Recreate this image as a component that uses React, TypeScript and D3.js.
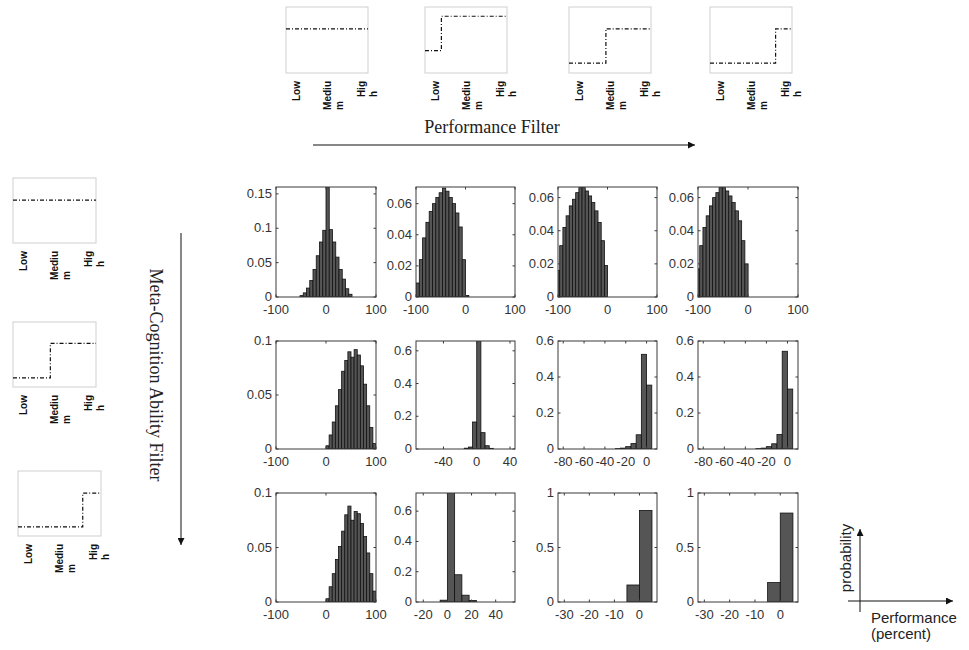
import React, { useEffect, useRef } from "react";
import * as d3 from "d3";

const W = 969;
const H = 650;

// histogram heights (probability) for each panel, row = meta-cognition filter, col = performance filter
const h11 = [0.002, 0.006, 0.013, 0.024, 0.04, 0.06, 0.08, 0.097, 0.16, 0.098, 0.08, 0.058, 0.04, 0.026, 0.012, 0.004];
const h12 = [0.009, 0.024, 0.038, 0.048, 0.055, 0.06, 0.064, 0.067, 0.07, 0.068, 0.064, 0.06, 0.054, 0.045, 0.024, 0.001];
const h13 = [0.016, 0.031, 0.042, 0.049, 0.055, 0.059, 0.063, 0.066, 0.066, 0.064, 0.061, 0.057, 0.052, 0.045, 0.034, 0.019];
const h14 = [0.017, 0.031, 0.042, 0.049, 0.055, 0.06, 0.063, 0.066, 0.066, 0.064, 0.061, 0.057, 0.052, 0.046, 0.034, 0.02];
const h21 = [0.003, 0.013, 0.025, 0.04, 0.055, 0.072, 0.082, 0.09, 0.085, 0.092, 0.087, 0.077, 0.06, 0.04, 0.02, 0.005];
const h22 = [0.005, 0.012, 0.165, 0.9, 0.1, 0.02, 0.004];
const h23 = [0.002, 0.005, 0.013, 0.03, 0.079, 0.526, 0.355];
const h24 = [0.002, 0.005, 0.013, 0.029, 0.081, 0.543, 0.333];
const h31 = [0.003, 0.014, 0.026, 0.039, 0.051, 0.065, 0.08, 0.088, 0.075, 0.083, 0.081, 0.072, 0.06, 0.045, 0.026, 0.01];
const h32 = [0.012, 0.9, 0.18, 0.045, 0.01];
const h33 = [0.156, 0.84];
const h34 = [0.178, 0.816];

const heights = [[h11, h12, h13, h14], [h21, h22, h23, h24], [h31, h32, h33, h34]];
const binStarts = [[-52, -100, -103, -103], [0, -15, -30, -30], [0, -6, -5, -5]];
const binWidths = [[6.5, 6.67, 6.45, 6.45], [6.25, 5, 5, 5], [6.25, 6, 5, 5]];

const xDomains = [
  [[-100, 100], [-100, 100], [-100, 100], [-100, 100]],
  [[-100, 100], [-73, 46], [-85, 10], [-85, 10]],
  [[-100, 100], [-26, 56], [-32.5, 7], [-32.5, 7]],
];
const yMax = [[0.16, 0.0707, 0.0664, 0.0664], [0.1, 0.66, 0.6, 0.6], [0.1, 0.72, 1, 1]];

const xTicks = [
  [[-100, 0, 100], [-100, 0, 100], [-100, 0, 100], [-100, 0, 100]],
  [[-100, 0, 100], [-40, 0, 40], [-80, -60, -40, -20, 0], [-80, -60, -40, -20, 0]],
  [[-100, 0, 100], [-20, 0, 20, 40], [-30, -20, -10, 0], [-30, -20, -10, 0]],
];
const yTicks = [
  [[0, 0.05, 0.1, 0.15], [0, 0.02, 0.04, 0.06], [0, 0.02, 0.04, 0.06], [0, 0.02, 0.04, 0.06]],
  [[0, 0.05, 0.1], [0, 0.2, 0.4, 0.6], [0, 0.2, 0.4, 0.6], [0, 0.2, 0.4, 0.6]],
  [[0, 0.05, 0.1], [0, 0.2, 0.4, 0.6], [0, 0.5, 1], [0, 0.5, 1]],
];

// filter thumbnails: level before/after the step, step position on Low..High
const levelLabels = [["Low"], ["Mediu", "m"], ["Hig", "h"]];
const perfStep = [null, 0.2, 0.45, 0.8];
const perfLow = [0.67, 0.34, 0.15, 0.15];
const perfHigh = [0.67, 0.86, 0.67, 0.67];
const metaStep = [null, 0.45, 0.78];
const metaLow = [0.66, 0.14, 0.14];
const metaHigh = [0.66, 0.67, 0.66];

const colX = [276, 416, 558, 698];
const colW = [100, 99, 99, 100];
const rowY = [187, 341, 493];
const rowH = [110, 108, 109];

const sans = "'Liberation Sans', Arial, sans-serif";
const serif = "'Liberation Serif', 'Times New Roman', serif";

export default function App() {
  const ref = useRef(null);

  useEffect(() => {
    const svg = d3.select(ref.current);
    svg.selectAll("*").remove();

    const defs = svg.append("defs");
    defs.append("marker")
      .attr("id", "arr")
      .attr("viewBox", "0 0 10 10")
      .attr("refX", 10).attr("refY", 5)
      .attr("markerWidth", 7).attr("markerHeight", 7)
      .attr("markerUnits", "userSpaceOnUse")
      .attr("orient", "auto")
      .append("path").attr("d", "M0,0L10,5L0,10z").attr("fill", "#111");

    // ---- filter thumbnails
    const thumb = (x0, y0, w, h, step, lo, hi) => {
      const g = svg.append("g").attr("transform", `translate(${x0},${y0})`);
      g.append("rect").attr("width", w).attr("height", h)
        .attr("fill", "#fff").attr("stroke", "#cfcfcf").attr("stroke-width", 1);
      const xs = d3.scaleLinear().domain([0, 1]).range([0, w]);
      const ys = d3.scaleLinear().domain([0, 1]).range([h, 0]);
      const pts = step == null ? [[0, lo], [1, hi]] : [[0, lo], [step, hi], [1, hi]];
      const line = d3.line().x(d => xs(d[0])).y(d => ys(d[1])).curve(d3.curveStepAfter);
      g.append("path").attr("d", line(pts)).attr("fill", "none")
        .attr("stroke", "#111").attr("stroke-width", 1.2)
        .attr("stroke-dasharray", "4,2,1,2");
      const offs = [14, 45, 79];
      levelLabels.forEach((lines, i) => {
        const t = g.append("g")
          .attr("transform", `translate(${offs[i]},${h + 8}) rotate(-90)`)
          .style("font-family", sans).style("font-size", "10px").style("font-weight", "bold");
        const first = t.append("text").attr("text-anchor", "end").attr("x", 0).attr("y", 0)
          .attr("fill", "#111").text(lines[0]);
        if (lines.length > 1) {
          const L = first.node().getComputedTextLength();
          t.append("text").attr("text-anchor", "start").attr("x", -L).attr("y", 12)
            .attr("fill", "#111").text(lines[1]);
        }
      });
    };

    const topX = [286, 425, 569, 710];
    topX.forEach((x, i) => thumb(x, 7, 82, 66, perfStep[i], perfLow[i], perfHigh[i]));
    const leftPos = [[13, 178], [13, 322], [18, 471]];
    leftPos.forEach((p, i) => thumb(p[0], p[1], 83, 65, metaStep[i], metaLow[i], metaHigh[i]));

    // ---- filter titles and arrows
    svg.append("text").attr("x", 492).attr("y", 133).attr("text-anchor", "middle")
      .style("font-family", serif).style("font-size", "18px").attr("fill", "#222")
      .text("Performance Filter");
    svg.append("line").attr("x1", 313).attr("y1", 145).attr("x2", 695).attr("y2", 145)
      .attr("stroke", "#111").attr("stroke-width", 1).attr("marker-end", "url(#arr)");

    svg.append("text").attr("transform", "translate(150,375) rotate(90)").attr("text-anchor", "middle")
      .style("font-family", serif).style("font-size", "18px").attr("fill", "#222")
      .text("Meta-Cognition Ability Filter");
    svg.append("line").attr("x1", 181).attr("y1", 233).attr("x2", 181).attr("y2", 545)
      .attr("stroke", "#111").attr("stroke-width", 1).attr("marker-end", "url(#arr)");

    // ---- histogram grid
    heights.forEach((row, r) => {
      row.forEach((vals, c) => {
        const w = colW[c], h = rowH[r];
        const g = svg.append("g").attr("transform", `translate(${colX[c]},${rowY[r]})`);
        const x = d3.scaleLinear().domain(xDomains[r][c]).range([0, w]);
        const y = d3.scaleLinear().domain([0, yMax[r][c]]).range([h, 0]);
        const cid = `clip${r}${c}`;
        defs.append("clipPath").attr("id", cid).append("rect").attr("width", w).attr("height", h);

        const bins = vals.map((v, i) => {
          const x0 = binStarts[r][c] + i * binWidths[r][c];
          return { x0, x1: x0 + binWidths[r][c], v };
        });
        g.append("g").attr("clip-path", `url(#${cid})`)
          .selectAll("rect").data(bins).enter().append("rect")
          .attr("x", d => x(d.x0))
          .attr("width", d => x(d.x1) - x(d.x0))
          .attr("y", d => y(d.v))
          .attr("height", d => h - y(d.v))
          .attr("fill", "#555")
          .attr("stroke", "#111")
          .attr("stroke-width", 0.8);

        g.append("rect").attr("width", w).attr("height", h)
          .attr("fill", "none").attr("stroke", "#3a3a3a").attr("stroke-width", 1);

        const tl = 2.5;
        xTicks[r][c].forEach(t => {
          g.append("line").attr("x1", x(t)).attr("x2", x(t)).attr("y1", h).attr("y2", h - tl)
            .attr("stroke", "#3a3a3a");
          g.append("line").attr("x1", x(t)).attr("x2", x(t)).attr("y1", 0).attr("y2", tl)
            .attr("stroke", "#3a3a3a");
          g.append("text").attr("x", x(t)).attr("y", h + 17).attr("text-anchor", "middle")
            .style("font-family", sans).style("font-size", "13px").attr("fill", "#333")
            .text(String(t));
        });
        yTicks[r][c].forEach(t => {
          g.append("line").attr("x1", 0).attr("x2", tl).attr("y1", y(t)).attr("y2", y(t))
            .attr("stroke", "#3a3a3a");
          g.append("line").attr("x1", w).attr("x2", w - tl).attr("y1", y(t)).attr("y2", y(t))
            .attr("stroke", "#3a3a3a");
          g.append("text").attr("x", -4).attr("y", y(t) + 4).attr("text-anchor", "end")
            .style("font-family", sans).style("font-size", "13px").attr("fill", "#333")
            .text(String(t));
        });
      });
    });

    // ---- axes legend (bottom right)
    svg.append("line").attr("x1", 860).attr("y1", 612).attr("x2", 860).attr("y2", 529)
      .attr("stroke", "#111").attr("marker-end", "url(#arr)");
    svg.append("line").attr("x1", 848).attr("y1", 601).attr("x2", 953).attr("y2", 601)
      .attr("stroke", "#111").attr("marker-end", "url(#arr)");
    svg.append("text").attr("transform", "translate(851,558) rotate(-90)").attr("text-anchor", "middle")
      .style("font-family", sans).style("font-size", "15px").attr("fill", "#222").text("probability");
    svg.append("text").attr("x", 871).attr("y", 623)
      .style("font-family", sans).style("font-size", "15px").attr("fill", "#222").text("Performance");
    svg.append("text").attr("x", 871).attr("y", 639)
      .style("font-family", sans).style("font-size", "15px").attr("fill", "#222").text("(percent)");
  }, []);

  return (
    <svg ref={ref} width={W} height={H}
      style={{ position: "absolute", left: 0, top: 0, background: "#fff" }} />
  );
}
